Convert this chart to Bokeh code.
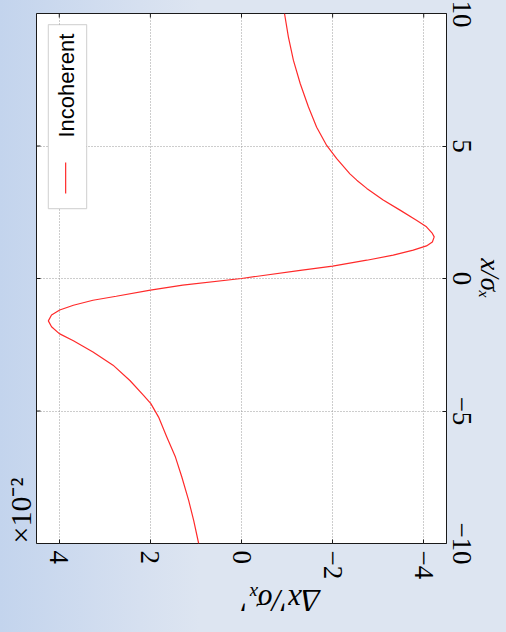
import math
from bokeh.plotting import figure
from bokeh.models import Range1d, FixedTicker, Label, BoxAnnotation, Title
from bokeh.embed import file_html
from bokeh.resources import INLINE

# ---- data (x/sigma_x  vs  kick in units of 1e-2) ----
x_over_sigma = [-10.0, -9.13, -8.37, -7.49, -6.74, -5.98, -5.23, -4.72, -4.41, -3.85,
                -3.27, -2.77, -2.35, -2.08, -1.82, -1.60, -1.38, -1.19, -1.01, -0.82,
                -0.67, -0.44, -0.25, 0.0, 0.31, 0.47, 0.69, 0.88, 1.07, 1.23,
                1.38, 1.57, 1.70, 1.95, 2.20, 2.58, 2.96, 3.40, 3.71, 3.95, 4.52,
                5.02, 5.71, 6.47, 7.35, 8.23, 9.11, 10.0]
kick_incoherent = [0.94, 1.05, 1.16, 1.31, 1.45, 1.64, 1.82, 1.99, 2.15, 2.45,
                   2.82, 3.26, 3.69, 4.00, 4.17, 4.24, 4.17, 3.99, 3.69, 3.26,
                   2.75, 2.00, 1.29, 0.0, -1.29, -2.00, -2.75, -3.33, -3.77, -4.06,
                   -4.19, -4.23, -4.19, -4.06, -3.84, -3.48, -3.11, -2.75, -2.53, -2.38, -2.09,
                   -1.87, -1.65, -1.47, -1.29, -1.14, -1.03, -0.944]

x_ticks = [-10, -5, 0, 5, 10]
kick_ticks = [-4, -2, 0, 2, 4]
series_name = "Incoherent"
x_label = "x/σₓ"
kick_label = "Δx′/σₓ′"
scale_text = "×10⁻²"

KICK_LIM = 4.5      # horizontal axis runs from +KICK_LIM (left) to -KICK_LIM (right)
X_LIM = 10          # vertical axis runs from -X_LIM to +X_LIM

SERIF = "Liberation Serif, serif"
INK = "#1a1a1a"
RED = "#ff2a2a"

p = figure(frame_width=410, frame_height=530,
           x_range=Range1d(KICK_LIM, -KICK_LIM), y_range=Range1d(-X_LIM, X_LIM),
           x_axis_location="below", y_axis_location="right",
           output_backend="svg", toolbar_location=None,
           min_border_left=36, min_border_top=13, min_border_right=60, min_border_bottom=89,
           background_fill_color="white", border_fill_color=None,
           outline_line_color=INK, outline_line_width=1)
p.styles = {"background": "linear-gradient(90deg, #c3d4ed 0px, #d6e0f0 140px, #dde5f1 200px, #dde5f1 100%)"}

def minus(t):
    return ("−" + str(abs(t))) if t < 0 else str(t)

xa = p.xaxis[0]
xa.ticker = FixedTicker(ticks=kick_ticks)
xa.major_label_overrides = {t: minus(t) for t in kick_ticks}
xa.axis_label = kick_label
xa.axis_label_orientation = math.pi
ya = p.yaxis[0]
ya.ticker = FixedTicker(ticks=x_ticks)
ya.major_label_overrides = {t: minus(t) for t in x_ticks}
ya.axis_label = x_label
ya.axis_label_orientation = "vertical"

for ax in (xa, ya):
    ax.major_label_orientation = "vertical"
    ax.axis_line_color = None
    ax.major_tick_in = 4
    ax.major_tick_out = 0
    ax.major_tick_line_color = INK
    ax.minor_tick_line_color = None
    ax.major_label_text_font = SERIF
    ax.major_label_text_font_size = "27px"
    ax.major_label_text_color = "black"
    ax.axis_label_text_font = SERIF
    ax.axis_label_text_font_style = "italic"
    ax.axis_label_text_color = "black"
xa.axis_label_text_font_size = "31px"
ya.axis_label_text_font_size = "27px"
xa.major_label_standoff = 7
xa.axis_label_standoff = 18
ya.major_label_standoff = 6
ya.axis_label_standoff = 1

# offset (scale) text, as in the original figure
p.add_layout(Title(text=scale_text, align="left", text_font=SERIF, text_font_size="30px",
                   text_font_style="normal", text_color="black", standoff=0,
                   vertical_align="bottom"), "left")

for g in (p.xgrid[0], p.ygrid[0]):
    g.grid_line_color = "#9a9a9a"
    g.grid_line_dash = "1 2"
    g.grid_line_width = 1
p.xgrid[0].ticker = FixedTicker(ticks=kick_ticks)
p.ygrid[0].ticker = FixedTicker(ticks=x_ticks)

# inward tick marks on the two unlabeled sides (half of each dash is clipped by the frame)
p.scatter(kick_ticks, [X_LIM] * len(kick_ticks), marker="dash", angle=math.pi / 2,
          size=8, line_color=INK, line_width=1)
p.scatter([KICK_LIM] * len(x_ticks), x_ticks, marker="dash", angle=0,
          size=8, line_color=INK, line_width=1)

p.line(kick_incoherent, x_over_sigma, line_color=RED, line_width=1.2)

# legend (rotated, drawn by hand)
p.add_layout(BoxAnnotation(left=4.24, right=3.40, bottom=2.64, top=9.58,
                           fill_color="white", fill_alpha=1, level="underlay",
                           line_color="#7a7a7a", line_width=1.2))
p.line([3.86, 3.86], [3.21, 4.38], line_color=RED, line_width=1.2)
p.add_layout(Label(x=3.85, y=5.32, text=series_name, angle=math.pi / 2,
                   text_align="left", text_baseline="middle",
                   text_font="Liberation Sans", text_font_size="22px",
                   text_color="black"))

open("out.html", "w").write(file_html(p, INLINE))
